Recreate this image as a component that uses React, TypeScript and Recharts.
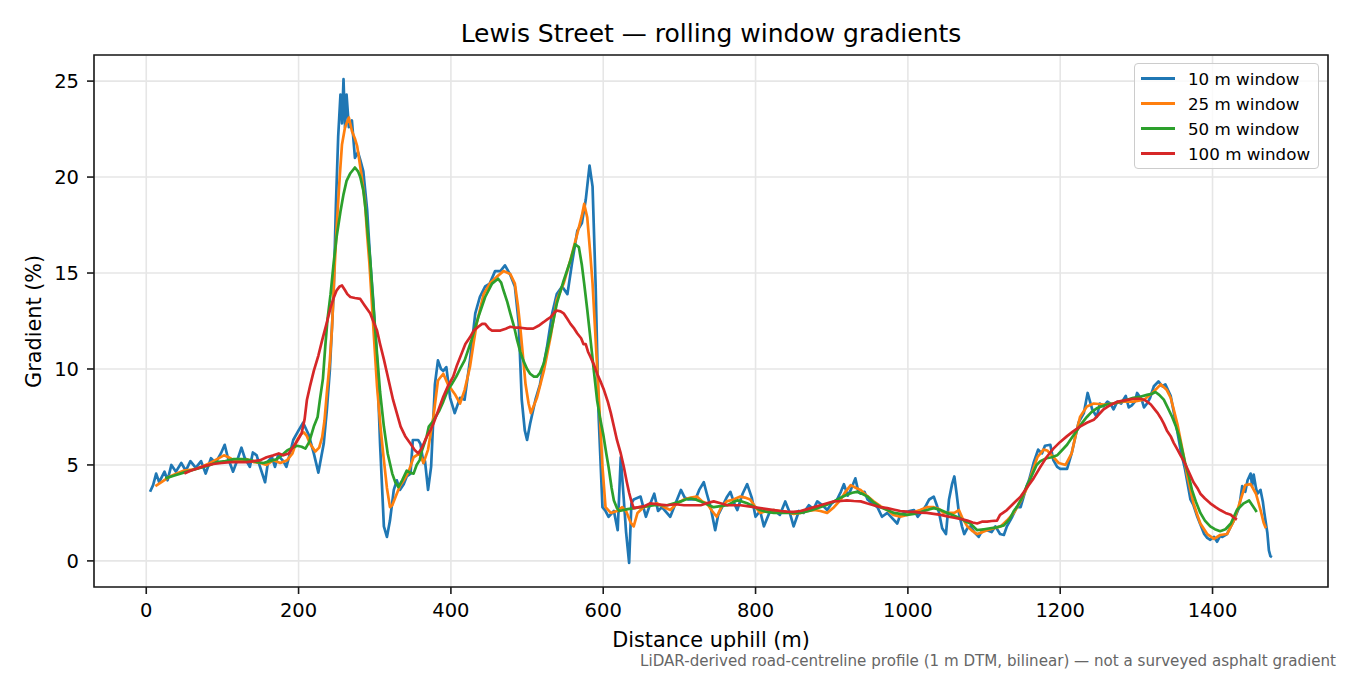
import React from 'react';
import { LineChart, Line, XAxis, YAxis, CartesianGrid, ReferenceArea } from 'recharts';

// axis ticks
const xTicks = [0, 200, 400, 600, 800, 1000, 1200, 1400];
const yTicks = [0, 5, 10, 15, 20, 25];

const seriesNames = ['10 m window', '25 m window', '50 m window', '100 m window'];

// [distance (m), gradient (%)]
const win10: [number, number][] = [
  [5, 3.6], [9, 3.95], [13, 4.55], [17, 4.1], [24, 4.65], [28, 4.2], [33, 5.0], [39, 4.65],
  [46, 5.1], [52, 4.7], [58, 5.2], [65, 4.85], [72, 5.2], [78, 4.55], [85, 5.35], [91, 5.1],
  [98, 5.6], [103, 6.05], [107, 5.4], [114, 4.65], [120, 5.3], [125, 5.9], [129, 5.4], [136, 4.9],
  [140, 5.65], [145, 5.5], [149, 4.95], [156, 4.1], [160, 5.2], [165, 5.4], [169, 4.9], [173, 5.5],
  [180, 5.2], [184, 4.9], [188, 5.5], [193, 6.3], [200, 6.8], [206, 7.2], [213, 6.6], [220, 5.6],
  [226, 4.6], [233, 6.1], [237, 7.8], [241, 9.9], [246, 13.9], [249, 18.5], [252, 22.1], [255, 24.3],
  [257, 22.8], [259, 25.1], [261, 22.6], [263, 24.3], [266, 22.6], [270, 22.95], [274, 21.0], [278, 21.3],
  [281, 20.9], [285, 20.3], [290, 18.3], [294, 15.7], [298, 13.6], [303, 10.5], [307, 6.1], [312, 1.8],
  [316, 1.25], [320, 2.1], [325, 3.7], [329, 4.2], [333, 3.7], [338, 4.0], [342, 4.4], [347, 4.55],
  [350, 6.3], [353, 6.3], [357, 6.3], [360, 6.1], [364, 5.1], [366, 5.2], [370, 3.7], [374, 4.9],
  [379, 9.2], [383, 10.45], [387, 10.0], [390, 9.9], [394, 10.1], [399, 8.5], [405, 7.7], [412, 8.5],
  [418, 8.4], [425, 10.45], [432, 12.9], [438, 13.75], [445, 14.3], [451, 14.45], [458, 15.1], [465, 15.1],
  [471, 15.4], [478, 14.9], [484, 14.3], [489, 12.4], [493, 8.4], [497, 6.8], [500, 6.3], [504, 7.15],
  [511, 8.4], [517, 9.2], [526, 11.1], [533, 12.9], [539, 13.9], [546, 14.3], [553, 13.9], [559, 15.5],
  [566, 17.2], [572, 17.6], [577, 18.8], [582, 20.6], [586, 19.5], [590, 14.4], [594, 7.5], [599, 2.8],
  [603, 2.6], [607, 2.3], [614, 2.6], [619, 1.6], [623, 5.4], [627, 3.2], [630, 1.5], [634, -0.1],
  [637, 3.0], [640, 3.2], [649, 3.35], [656, 2.3], [662, 3.0], [667, 3.5], [672, 2.6], [677, 2.8],
  [688, 2.3], [695, 3.0], [702, 3.7], [707, 3.3], [712, 3.2], [721, 3.2], [726, 3.7], [732, 4.1],
  [736, 3.5], [741, 2.8], [747, 1.6], [751, 2.4], [756, 2.8], [762, 3.3], [767, 3.6], [772, 3.0],
  [776, 2.65], [783, 3.5], [789, 4.0], [795, 3.3], [800, 2.3], [806, 2.6], [811, 1.8], [818, 2.5],
  [824, 2.65], [832, 2.4], [839, 3.1], [845, 2.5], [850, 1.8], [857, 2.6], [863, 2.5], [870, 2.9],
  [876, 2.7], [881, 3.1], [888, 2.9], [894, 2.65], [900, 3.0], [907, 3.2], [912, 3.6], [916, 4.0],
  [921, 3.4], [925, 3.7], [931, 4.3], [935, 3.6], [938, 3.5], [943, 3.6], [947, 3.2], [953, 3.0],
  [960, 2.8], [966, 2.3], [973, 2.5], [980, 2.2], [986, 1.95], [990, 2.4], [995, 2.5], [1002, 2.6],
  [1008, 2.65], [1013, 2.3], [1019, 2.6], [1024, 2.9], [1028, 3.2], [1034, 3.35], [1038, 2.9], [1041, 2.5],
  [1045, 1.7], [1050, 1.4], [1054, 3.2], [1058, 4.0], [1061, 4.4], [1064, 3.5], [1067, 2.5], [1071, 1.8],
  [1074, 1.4], [1078, 1.7], [1082, 1.8], [1087, 1.5], [1093, 1.25], [1098, 1.6], [1104, 1.6], [1110, 1.5],
  [1115, 1.8], [1121, 1.4], [1126, 1.35], [1130, 1.8], [1137, 2.3], [1143, 2.8], [1148, 2.8], [1156, 3.9],
  [1159, 4.2], [1165, 5.1], [1171, 5.8], [1176, 5.6], [1180, 6.0], [1187, 6.05], [1191, 5.25], [1196, 4.9],
  [1200, 4.8], [1209, 4.8], [1215, 5.6], [1224, 7.2], [1231, 7.7], [1236, 8.75], [1242, 7.9], [1248, 7.5],
  [1252, 8.2], [1257, 8.05], [1262, 8.3], [1266, 8.2], [1270, 7.9], [1275, 8.3], [1280, 8.2], [1286, 8.6],
  [1290, 8.0], [1294, 8.1], [1298, 8.3], [1301, 8.75], [1307, 8.4], [1310, 8.0], [1314, 8.2], [1318, 8.5],
  [1323, 9.1], [1329, 9.35], [1334, 9.1], [1338, 9.2], [1345, 8.6], [1351, 7.35], [1358, 5.8], [1364, 4.75],
  [1371, 3.2], [1375, 2.9], [1380, 2.3], [1385, 1.8], [1389, 1.4], [1393, 1.2], [1397, 1.1], [1402, 1.25],
  [1406, 1.0], [1410, 1.3], [1413, 1.25], [1419, 1.4], [1424, 1.8], [1428, 2.1], [1435, 2.8], [1439, 3.9],
  [1443, 3.6], [1446, 4.2], [1450, 4.55], [1452, 3.9], [1454, 4.5], [1457, 3.8], [1459, 3.5], [1463, 3.7],
  [1466, 3.1], [1468, 2.5], [1472, 1.45], [1474, 0.55], [1476, 0.25], [1478, 0.2],
];

const win25: [number, number][] = [
  [12, 3.9], [20, 4.1], [31, 4.4], [40, 4.55], [49, 4.7], [58, 4.75], [66, 4.8], [75, 4.95],
  [84, 5.1], [93, 5.3], [102, 5.5], [108, 5.4], [115, 5.25], [124, 5.2], [132, 5.3], [141, 5.15],
  [150, 5.1], [158, 5.0], [167, 5.25], [176, 5.1], [185, 5.25], [192, 5.6], [198, 6.3], [203, 6.6],
  [207, 6.7], [211, 6.5], [215, 6.1], [222, 5.7], [227, 5.9], [231, 6.45], [234, 7.3], [237, 8.7],
  [241, 10.4], [244, 12.2], [247, 15.0], [250, 17.4], [254, 20.0], [257, 21.7], [261, 22.6], [266, 23.1],
  [270, 22.4], [274, 22.0], [277, 21.6], [283, 20.0], [287, 18.8], [290, 17.0], [293, 15.5], [296, 13.6],
  [300, 11.0], [303, 9.1], [308, 6.8], [312, 5.25], [316, 3.8], [320, 2.8], [323, 2.9], [327, 3.3],
  [333, 3.9], [338, 4.2], [344, 4.6], [351, 5.4], [359, 5.6], [364, 5.1], [370, 5.8], [377, 7.5],
  [383, 9.4], [390, 9.75], [396, 9.2], [405, 8.7], [412, 8.2], [418, 8.9], [425, 10.1], [430, 11.4],
  [434, 12.4], [443, 13.9], [451, 14.45], [460, 14.8], [469, 15.1], [478, 14.95], [484, 14.45], [488, 13.3],
  [491, 12.2], [495, 10.5], [498, 9.2], [502, 8.2], [505, 7.7], [513, 8.5], [522, 9.9], [531, 11.7],
  [539, 13.6], [548, 14.45], [557, 15.7], [566, 17.05], [572, 18.0], [575, 18.6], [579, 17.9], [583, 16.0],
  [586, 14.45], [592, 10.1], [596, 7.2], [599, 4.9], [603, 2.8], [610, 2.5], [618, 2.6], [625, 2.8],
  [630, 2.6], [636, 2.0], [640, 1.8], [645, 2.5], [653, 2.8], [662, 2.9], [671, 3.0], [680, 2.8],
  [688, 2.65], [697, 3.0], [706, 3.2], [715, 3.3], [723, 3.35], [730, 3.1], [736, 3.0], [743, 2.6],
  [749, 2.3], [755, 2.8], [762, 3.1], [771, 3.2], [780, 3.35], [786, 3.3], [793, 3.2], [800, 2.8],
  [806, 2.5], [815, 2.6], [824, 2.65], [832, 2.6], [841, 2.55], [850, 2.45], [859, 2.5], [868, 2.6],
  [877, 2.65], [885, 2.6], [894, 2.5], [903, 2.8], [912, 3.2], [918, 3.6], [925, 3.95], [932, 3.8],
  [938, 3.7], [946, 3.4], [955, 3.1], [964, 2.85], [973, 2.65], [981, 2.4], [990, 2.3], [999, 2.4],
  [1008, 2.55], [1016, 2.65], [1025, 2.8], [1034, 2.8], [1041, 2.7], [1047, 2.5], [1054, 2.5], [1061, 2.5],
  [1067, 2.65], [1072, 2.2], [1078, 1.8], [1085, 1.55], [1091, 1.4], [1098, 1.5], [1104, 1.6], [1113, 1.7],
  [1122, 1.8], [1130, 2.1], [1139, 2.5], [1148, 3.1], [1157, 3.85], [1163, 4.6], [1170, 5.4], [1178, 5.8],
  [1183, 5.75], [1189, 5.5], [1198, 5.1], [1207, 5.0], [1215, 5.6], [1220, 6.5], [1226, 7.5], [1235, 8.05],
  [1244, 8.2], [1257, 8.15], [1270, 8.2], [1283, 8.3], [1296, 8.3], [1310, 8.4], [1321, 8.75], [1332, 9.2],
  [1340, 8.9], [1345, 8.5], [1349, 7.9], [1354, 7.1], [1358, 6.3], [1363, 5.3], [1367, 4.4], [1371, 3.7],
  [1375, 3.0], [1380, 2.4], [1384, 1.95], [1393, 1.4], [1402, 1.15], [1410, 1.35], [1419, 1.4], [1428, 2.1],
  [1433, 2.7], [1437, 3.2], [1443, 3.95], [1450, 4.0], [1457, 3.5], [1463, 2.65], [1467, 2.0], [1470, 1.7],
];

const win50: [number, number][] = [
  [25, 4.3], [37, 4.45], [49, 4.6], [62, 4.75], [75, 4.9], [84, 5.0], [93, 5.15], [104, 5.2],
  [115, 5.3], [126, 5.3], [137, 5.25], [145, 5.15], [154, 5.1], [162, 5.2], [171, 5.3], [178, 5.5],
  [185, 5.75], [192, 5.9], [198, 6.0], [204, 5.95], [209, 5.85], [214, 6.2], [220, 7.0], [225, 7.5],
  [228, 8.4], [232, 9.5], [235, 11.15], [238, 12.6], [242, 13.9], [246, 15.5], [250, 16.9], [255, 18.2],
  [259, 19.1], [263, 19.8], [268, 20.2], [274, 20.5], [278, 20.3], [281, 20.0], [285, 19.3], [288, 18.3],
  [291, 17.0], [294, 15.7], [298, 13.4], [303, 10.8], [307, 8.8], [312, 7.0], [317, 5.6], [323, 4.55],
  [327, 4.1], [331, 3.85], [336, 4.2], [342, 4.7], [346, 4.6], [351, 4.55], [355, 5.0], [359, 5.25],
  [362, 5.75], [368, 6.45], [371, 7.0], [377, 7.3], [385, 7.85], [390, 8.3], [396, 8.9], [401, 9.2],
  [407, 9.6], [412, 10.0], [418, 10.45], [427, 11.5], [436, 12.7], [445, 13.75], [454, 14.45], [462, 14.7],
  [466, 14.5], [469, 14.1], [474, 13.5], [478, 12.9], [483, 12.2], [487, 11.5], [491, 10.9], [495, 10.45],
  [500, 10.0], [504, 9.75], [509, 9.6], [513, 9.6], [517, 9.8], [522, 10.3], [526, 11.0], [531, 11.85],
  [535, 12.6], [539, 13.4], [548, 14.6], [557, 15.65], [563, 16.5], [568, 16.35], [572, 15.4], [575, 14.45],
  [579, 13.1], [583, 11.65], [588, 9.8], [592, 8.35], [596, 7.4], [600, 6.6], [604, 5.6], [607, 4.9],
  [611, 3.8], [614, 3.15], [618, 2.75], [621, 2.6], [632, 2.7], [641, 2.75], [649, 2.8], [658, 2.85],
  [667, 2.9], [676, 2.9], [684, 2.9], [693, 3.0], [702, 3.1], [708, 3.2], [715, 3.25], [721, 3.2],
  [728, 3.1], [736, 2.95], [745, 2.8], [754, 2.85], [763, 2.9], [770, 3.05], [776, 3.15], [782, 3.1],
  [789, 3.0], [797, 2.85], [806, 2.65], [815, 2.55], [824, 2.5], [832, 2.5], [841, 2.5], [850, 2.5],
  [859, 2.5], [870, 2.6], [881, 2.75], [892, 2.9], [903, 3.1], [912, 3.3], [920, 3.45], [927, 3.55],
  [933, 3.6], [940, 3.5], [947, 3.35], [955, 3.05], [964, 2.8], [973, 2.65], [982, 2.5], [990, 2.45],
  [999, 2.4], [1008, 2.45], [1017, 2.55], [1025, 2.65], [1034, 2.75], [1043, 2.65], [1052, 2.5], [1061, 2.35],
  [1070, 2.2], [1076, 2.05], [1082, 1.95], [1087, 1.75], [1091, 1.6], [1100, 1.65], [1108, 1.7], [1117, 1.75],
  [1126, 1.85], [1134, 2.2], [1139, 2.6], [1143, 2.8], [1150, 3.3], [1156, 3.9], [1161, 4.3], [1169, 5.0],
  [1174, 5.2], [1182, 5.35], [1189, 5.4], [1196, 5.5], [1202, 5.75], [1209, 6.05], [1215, 6.4], [1222, 6.8],
  [1228, 7.15], [1235, 7.5], [1241, 7.75], [1248, 7.95], [1254, 8.05], [1261, 8.15], [1270, 8.2], [1279, 8.3],
  [1288, 8.4], [1296, 8.5], [1305, 8.55], [1314, 8.65], [1320, 8.7], [1325, 8.8], [1330, 8.65], [1336, 8.4],
  [1341, 8.0], [1347, 7.5], [1352, 7.0], [1356, 6.5], [1360, 5.8], [1364, 5.1], [1369, 4.4], [1373, 3.7],
  [1378, 3.1], [1384, 2.5], [1390, 2.1], [1397, 1.8], [1403, 1.65], [1410, 1.55], [1417, 1.65], [1424, 1.95],
  [1428, 2.3], [1432, 2.65], [1437, 2.85], [1441, 3.0], [1448, 3.15], [1454, 2.8], [1458, 2.55],
];

const win100: [number, number][] = [
  [50, 4.55], [58, 4.7], [66, 4.8], [77, 4.95], [88, 5.05], [99, 5.1], [110, 5.15], [121, 5.15],
  [132, 5.15], [141, 5.2], [150, 5.25], [158, 5.4], [167, 5.5], [174, 5.6], [180, 5.5], [187, 5.6],
  [193, 5.95], [199, 6.3], [204, 6.65], [208, 7.4], [211, 8.4], [215, 9.1], [220, 9.9], [226, 10.7],
  [231, 11.5], [237, 12.4], [242, 13.2], [246, 13.7], [250, 14.1], [254, 14.3], [257, 14.35], [261, 14.1],
  [264, 13.9], [268, 13.75], [274, 13.7], [281, 13.65], [287, 13.3], [294, 12.9], [298, 12.5], [303, 12.0],
  [307, 11.3], [312, 10.5], [316, 9.8], [320, 9.1], [324, 8.4], [329, 7.7], [334, 7.0], [340, 6.5],
  [347, 6.1], [352, 5.8], [357, 5.6], [362, 5.9], [368, 6.45], [373, 6.8], [377, 7.15], [384, 7.9],
  [390, 8.55], [396, 9.1], [403, 9.6], [408, 10.2], [414, 10.8], [419, 11.3], [425, 11.65], [430, 12.0],
  [436, 12.2], [441, 12.35], [445, 12.35], [450, 12.1], [454, 12.0], [460, 12.0], [465, 12.0], [472, 12.1],
  [478, 12.2], [485, 12.15], [491, 12.15], [500, 12.1], [508, 12.1], [515, 12.25], [522, 12.45], [527, 12.6],
  [531, 12.7], [535, 12.9], [539, 13.05], [544, 13.0], [548, 12.9], [553, 12.6], [557, 12.35], [562, 12.1],
  [566, 11.85], [571, 11.6], [574, 11.3], [577, 11.3], [580, 10.9], [583, 10.65], [588, 10.2], [592, 9.75],
  [597, 9.3], [601, 8.9], [606, 8.3], [610, 7.7], [614, 7.0], [618, 6.3], [623, 5.6], [627, 4.9],
  [631, 4.1], [634, 3.55], [637, 3.1], [640, 2.75], [647, 2.8], [654, 2.85], [662, 3.0], [671, 2.95],
  [684, 2.9], [695, 2.95], [706, 2.9], [717, 2.9], [728, 2.9], [736, 3.0], [745, 3.1], [754, 3.0],
  [763, 2.9], [772, 2.9], [780, 2.9], [789, 2.85], [798, 2.8], [806, 2.75], [815, 2.7], [824, 2.65],
  [833, 2.6], [841, 2.57], [850, 2.55], [859, 2.6], [868, 2.7], [877, 2.8], [885, 2.9], [894, 3.0],
  [903, 3.1], [912, 3.12], [920, 3.15], [929, 3.12], [938, 3.1], [946, 3.0], [955, 2.9], [964, 2.8],
  [973, 2.75], [981, 2.68], [990, 2.6], [999, 2.57], [1008, 2.55], [1016, 2.52], [1025, 2.5], [1034, 2.45],
  [1043, 2.4], [1052, 2.32], [1061, 2.25], [1070, 2.18], [1078, 2.1], [1085, 2.0], [1091, 1.95], [1098, 2.05],
  [1104, 2.05], [1110, 2.08], [1117, 2.1], [1121, 2.4], [1130, 2.65], [1139, 3.0], [1148, 3.35], [1156, 3.8],
  [1165, 4.3], [1174, 4.9], [1182, 5.4], [1191, 5.85], [1200, 6.2], [1209, 6.5], [1217, 6.75], [1226, 7.0],
  [1235, 7.2], [1244, 7.35], [1250, 7.6], [1257, 7.9], [1263, 8.05], [1270, 8.2], [1276, 8.3], [1283, 8.35],
  [1290, 8.4], [1296, 8.45], [1305, 8.45], [1310, 8.4], [1314, 8.3], [1319, 8.15], [1323, 7.95], [1328, 7.7],
  [1332, 7.45], [1336, 7.15], [1340, 6.8], [1345, 6.5], [1349, 6.15], [1354, 5.8], [1358, 5.5], [1363, 5.15],
  [1367, 4.8], [1371, 4.45], [1375, 4.1], [1380, 3.8], [1384, 3.5], [1390, 3.25], [1397, 3.0], [1404, 2.8],
  [1410, 2.65], [1417, 2.5], [1424, 2.4], [1428, 2.25], [1432, 2.15],
];

const seriesColors = ['#1f77b4', '#ff7f0e', '#2ca02c', '#d62728'];
const FONT = '"DejaVu Sans", sans-serif';

// plot limits (data range plus a 5% margin each side)
const xDomain: [number, number] = [-68.6, 1551.6];
const yDomain: [number, number] = [-1.36, 26.36];

const toRows = (pts: [number, number][]) => pts.map(([d, g]) => ({ d, g }));

export default function App() {
  const series = [win10, win25, win50, win100].map((pts, i) => ({
    name: seriesNames[i],
    color: seriesColors[i],
    data: toRows(pts),
  }));

  const tickStyle = { fill: '#000', fontSize: 19.5, fontFamily: FONT };

  return (
    <div style={{ position: 'absolute', left: 0, top: 0, width: 1350, height: 675, background: '#fff', fontFamily: FONT }}>
      <LineChart width={1350} height={675} margin={{ top: 55, right: 22, bottom: 0, left: 0 }}>
        <CartesianGrid stroke="#e6e6e6" strokeWidth={1.6} />
        <XAxis
          type="number"
          dataKey="d"
          domain={xDomain}
          ticks={xTicks}
          allowDataOverflow
          height={88}
          tickSize={7}
          tickMargin={9}
          tick={tickStyle}
          tickLine={{ stroke: '#1a1a1a', strokeWidth: 1.6 }}
          axisLine={false}
        />
        <YAxis
          type="number"
          dataKey="g"
          domain={yDomain}
          ticks={yTicks}
          allowDataOverflow
          width={94}
          tickSize={7}
          tickMargin={8}
          tick={tickStyle}
          tickLine={{ stroke: '#1a1a1a', strokeWidth: 1.6 }}
          axisLine={false}
        />
        {series.map((s) => (
          <Line
            key={s.name}
            data={s.data}
            dataKey="g"
            name={s.name}
            type="linear"
            stroke={s.color}
            strokeWidth={2.7}
            strokeLinejoin="round"
            dot={false}
            activeDot={false}
            isAnimationActive={false}
          />
        ))}
        <ReferenceArea
          x1={xDomain[0]}
          x2={xDomain[1]}
          y1={yDomain[0]}
          y2={yDomain[1]}
          fill="none"
          fillOpacity={0}
          stroke="#1a1a1a"
          strokeWidth={1.6}
        />
      </LineChart>

      {/* title */}
      <div style={{ position: 'absolute', left: 94, width: 1234, top: 21, fontSize: 25, lineHeight: '25px', textAlign: 'center', color: '#000' }}>
        Lewis Street — rolling window gradients
      </div>

      {/* axis labels */}
      <div style={{ position: 'absolute', left: 94, width: 1234, top: 630, fontSize: 20.8, lineHeight: '20.8px', textAlign: 'center', color: '#000' }}>
        Distance uphill (m)
      </div>
      <div
        style={{
          position: 'absolute',
          left: 34 - 100,
          top: 321 - 10.4,
          width: 200,
          fontSize: 20.8,
          lineHeight: '20.8px',
          textAlign: 'center',
          color: '#000',
          transform: 'rotate(-90deg)',
        }}
      >
        Gradient (%)
      </div>

      {/* legend */}
      <div
        style={{
          position: 'absolute',
          left: 1134,
          top: 63,
          width: 183,
          height: 104,
          border: '1px solid #cccccc',
          borderRadius: 4,
          background: 'rgba(255,255,255,0.8)',
        }}
      >
        {series.map((s, i) => (
          <div
            key={s.name}
            style={{ position: 'absolute', left: 0, top: 2 + i * 25, height: 25, display: 'flex', alignItems: 'center' }}
          >
            <div style={{ marginLeft: 6, width: 34, height: 2.7, background: s.color }} />
            <span style={{ marginLeft: 13, fontSize: 16.7, color: '#000', whiteSpace: 'nowrap' }}>{s.name}</span>
          </div>
        ))}
      </div>

      {/* footnote */}
      <div style={{ position: 'absolute', right: 14, top: 654, fontSize: 15.1, lineHeight: '15.1px', color: '#666', whiteSpace: 'nowrap' }}>
        LiDAR-derived road-centreline profile (1 m DTM, bilinear) — not a surveyed asphalt gradient
      </div>
    </div>
  );
}
